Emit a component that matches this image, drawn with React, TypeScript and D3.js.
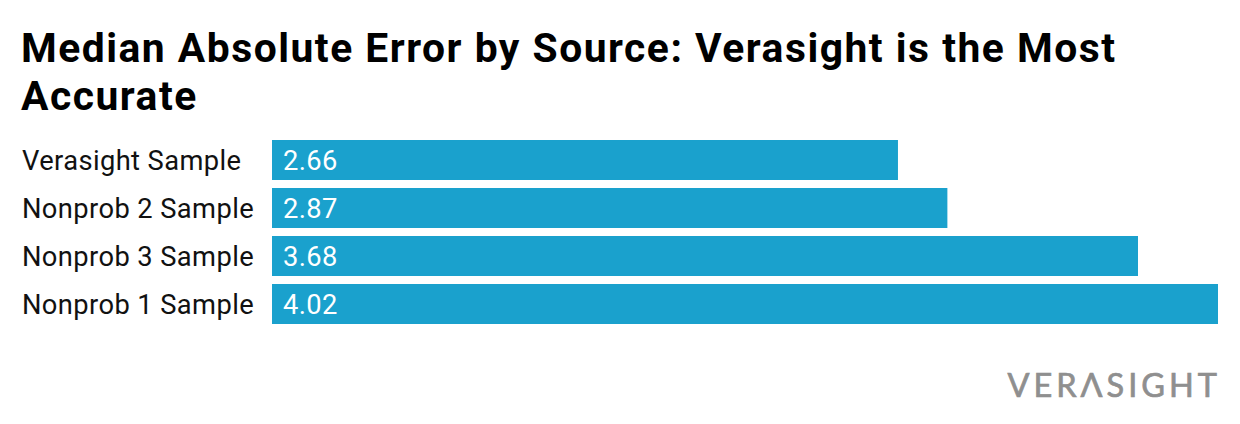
import React from "react";
import * as d3 from "d3";

const categories = ["Verasight Sample", "Nonprob 2 Sample", "Nonprob 3 Sample", "Nonprob 1 Sample"];
const values = [2.66, 2.87, 3.68, 4.02];
const titleLines = ["Median Absolute Error by Source: Verasight is the Most", "Accurate"];

const W = 1240;
const H = 424;
const BAR_COLOR = "#1aa1cd";

export default function App() {
  const x = d3.scaleLinear().domain([0, d3.max(values) as number]).range([272, 1218]);
  const y = d3
    .scaleBand<string>()
    .domain(categories)
    .range([136, 328])
    .paddingInner(8 / 48)
    .paddingOuter(4 / 48);
  const font = "Roboto, 'Noto Sans', sans-serif";

  return (
    <svg
      width={W}
      height={H}
      style={{ position: "absolute", left: 0, top: 0, background: "#fff" }}
      fontFamily={font}
    >
      {titleLines.map((t, i) => (
        <text
          key={i}
          x={21}
          y={61.5 + i * 48}
          fontSize={40.8}
          fontWeight={700}
          letterSpacing={1.5}
          fill="#000"
        >
          {t}
        </text>
      ))}
      {categories.map((c, i) => {
        const yy = y(c) as number;
        const bh = y.bandwidth();
        return (
          <g key={c}>
            <text x={22} y={yy + bh / 2 + 9.5} fontSize={27.3} letterSpacing={0.4} fill="#111">
              {c}
            </text>
            <rect x={x(0)} y={yy} width={x(values[i]) - x(0)} height={bh} fill={BAR_COLOR} />
            <text x={x(0) + 11} y={yy + bh / 2 + 9.5} fontSize={27.3} letterSpacing={0.4} fill="#fff">
              {values[i].toFixed(2)}
            </text>
          </g>
        );
      })}
      <text
        x={1221}
        y={396.7}
        textAnchor="end"
        fontSize={32.5}
        fontFamily="Lato, 'Open Sans', sans-serif"
        fontWeight={400}
        letterSpacing={4}
        fill="#8f8f8f"
        stroke="#8f8f8f"
        strokeWidth={0.7}
      >
        VER<tspan>Λ</tspan>SIGHT
      </text>
    </svg>
  );
}
